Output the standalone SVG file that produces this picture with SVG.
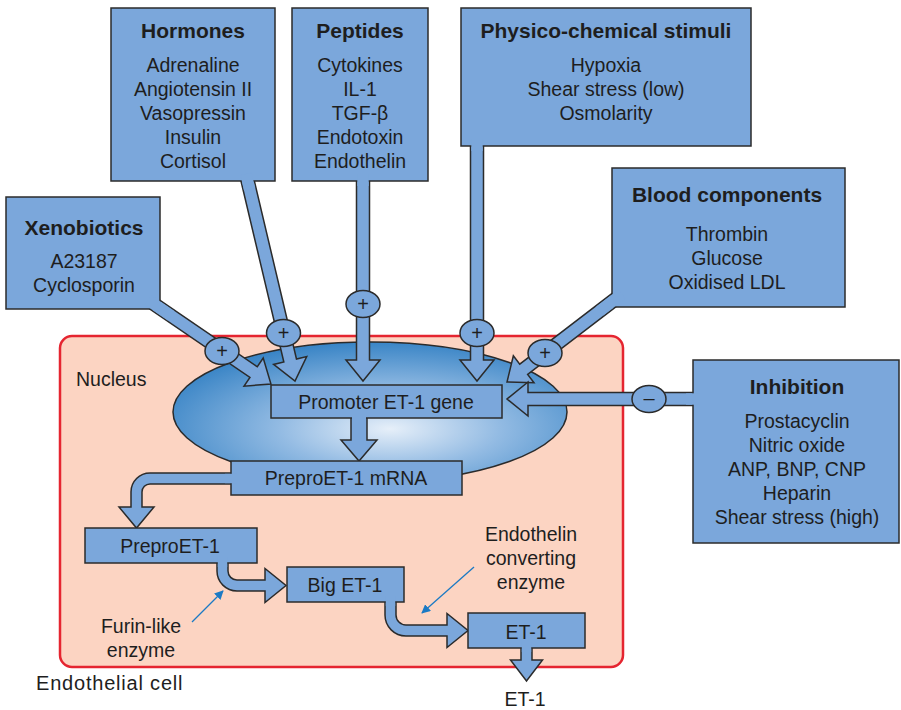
<svg xmlns="http://www.w3.org/2000/svg" width="901" height="710" viewBox="0 0 901 710">
<defs>
<radialGradient id="nuc" cx="0.55" cy="0.62" r="0.62">
<stop offset="0" stop-color="#e6eff9"/>
<stop offset="0.45" stop-color="#93bbe3"/>
<stop offset="1" stop-color="#3a85c6"/>
</radialGradient>
<marker id="ah" viewBox="0 0 10 10" refX="9" refY="5" markerWidth="9" markerHeight="9" orient="auto" markerUnits="userSpaceOnUse">
<path d="M0,0 L10,5 L0,10 Z" fill="#1b7ac4"/>
</marker>
<style>
.box{fill:#7ba7db;stroke:#2b2b2b;stroke-width:1.5}
.arr{fill:#7ba7db;stroke:#2b2b2b;stroke-width:1.5;stroke-linejoin:miter}
.pat{fill:#7ba7db;stroke:none}
.t{font-family:"Liberation Sans",Arial,sans-serif;font-size:19.5px;fill:#1e1e1e;text-anchor:middle}
.h{font-weight:bold;font-size:21px}
.l{text-anchor:start}
.sg{font-family:"Liberation Sans",Arial,sans-serif;font-size:20px;fill:#1e1e1e;text-anchor:middle}
.thin{stroke:#1b7ac4;stroke-width:1.3;fill:none}
</style>
</defs>
<rect width="901" height="710" fill="#ffffff"/>

<g id="cell">
<rect x="60" y="336" width="563" height="331" rx="12" fill="#fcd4c2" stroke="#e52530" stroke-width="2.5"/>
<text class="t l" x="36" y="690" style="font-size:20px;letter-spacing:0.8px">Endothelial cell</text>
</g>
<g id="nucleus">
<ellipse cx="370" cy="412" rx="197" ry="70" fill="url(#nuc)" stroke="#2b2b2b" stroke-width="1.5"/>
<text class="t l" x="76" y="386">Nucleus</text>
</g>

<g id="connectors">
<path class="arr" d="M351,413 V440 H341 L359,461 L377,440 H367 V413 Z"/>
<path class="arr" d="M240,473 H150 A19,19 0 0 0 131,492 V507 H119 L136.5,528 L154,507 H142 V492 A8,8 0 0 1 150,484 H240 Z"/>
<path class="arr" d="M217,555 V571 A20,20 0 0 0 237,591 H265 V602.5 L286,585.5 L265,568.5 V580 H237 A9,9 0 0 1 228,571 V555 Z"/>
<path class="arr" d="M385,597 V615 A21,21 0 0 0 406,636 H447 V647.5 L468,630.5 L447,613.5 V625 H406 A10,10 0 0 1 396,615 V597 Z"/>
<path class="arr" d="M521,643 V660 H510.5 L526.5,681 L542.5,660 H532 V643 Z"/>
<path class="arr" transform="translate(148,300) rotate(34.33)" d="M0,-6.5 H127.9 V-17 L148.9,0 L127.9,17 V6.5 H0 Z"/>
<path class="arr" transform="translate(246,174) rotate(76.68)" d="M0,-6.5 H191.7 V-17 L212.7,0 L191.7,17 V6.5 H0 Z"/>
<path class="arr" d="M356.5,175 V360 H346 L363,381 L380,360 H369.5 V175 Z"/>
<path class="arr" d="M470.5,140 V360 H460 L477,381 L494,360 H483.5 V140 Z"/>
<path class="arr" transform="translate(622,294) rotate(142.57)" d="M0,-6.5 H123.8 V-17 L144.8,0 L123.8,17 V6.5 H0 Z"/>
<path class="arr" d="M700,392.5 H528 V382 L507,399 L528,416 V405.5 H700 Z"/>
<line class="thin" x1="192" y1="622" x2="223" y2="591" marker-end="url(#ah)"/>
<line class="thin" x1="474" y1="567" x2="422" y2="613" marker-end="url(#ah)"/>
</g>

<g id="promoter">
<rect class="box" x="271" y="385" width="231" height="33"/>
<text class="t" x="386" y="409">Promoter ET-1 gene</text>
</g>
<g id="mrna">
<rect class="box" x="231" y="461" width="231" height="34"/>
<text class="t" x="346" y="485">PreproET-1 mRNA</text>
</g>
<g id="prepro">
<rect class="box" x="85" y="528" width="172" height="35"/>
<text class="t" x="170" y="553">PreproET-1</text>
</g>
<g id="bigET">
<rect class="box" x="287" y="567" width="117" height="35"/>
<text class="t" x="345" y="592">Big ET-1</text>
</g>
<g id="ET1">
<rect class="box" x="468" y="613" width="117" height="35"/>
<text class="t" x="526" y="639">ET-1</text>
</g>
<g id="ET1-out">
<text class="t" x="525" y="706">ET-1</text>
</g>
<g id="furin">
<text class="t" x="141" y="633">Furin-like</text>
<text class="t" x="141" y="657">enzyme</text>
</g>
<g id="ece">
<text class="t" x="531" y="541">Endothelin</text>
<text class="t" x="531" y="565">converting</text>
<text class="t" x="531" y="589">enzyme</text>
</g>

<g id="hormones">
<rect class="box" x="111" y="8" width="164" height="173"/>
<text class="t h" x="193" y="38">Hormones</text>
<text class="t" x="193" y="72">Adrenaline</text>
<text class="t" x="193" y="96">Angiotensin II</text>
<text class="t" x="193" y="120">Vasopressin</text>
<text class="t" x="193" y="144">Insulin</text>
<text class="t" x="193" y="168">Cortisol</text>
</g>
<g id="peptides">
<rect class="box" x="292" y="8" width="136" height="173"/>
<text class="t h" x="360" y="38">Peptides</text>
<text class="t" x="360" y="72">Cytokines</text>
<text class="t" x="360" y="96">IL-1</text>
<text class="t" x="360" y="120">TGF-β</text>
<text class="t" x="360" y="144">Endotoxin</text>
<text class="t" x="360" y="168">Endothelin</text>
</g>
<g id="physico">
<rect class="box" x="461" y="8" width="290" height="138"/>
<text class="t h" x="606" y="38">Physico-chemical stimuli</text>
<text class="t" x="606" y="72">Hypoxia</text>
<text class="t" x="606" y="96">Shear stress (low)</text>
<text class="t" x="606" y="120">Osmolarity</text>
</g>
<g id="blood">
<rect class="box" x="612" y="168" width="233" height="139"/>
<text class="t h" x="727" y="202">Blood components</text>
<text class="t" x="727" y="241">Thrombin</text>
<text class="t" x="727" y="265">Glucose</text>
<text class="t" x="727" y="289">Oxidised LDL</text>
</g>
<g id="xenobiotics">
<rect class="box" x="6" y="197" width="154" height="112"/>
<text class="t h" x="84" y="235">Xenobiotics</text>
<text class="t" x="84" y="268">A23187</text>
<text class="t" x="84" y="292">Cyclosporin</text>
</g>
<g id="inhibition">
<rect class="box" x="693" y="360" width="206" height="183"/>
<text class="t h" x="797" y="394">Inhibition</text>
<text class="t" x="797" y="428">Prostacyclin</text>
<text class="t" x="797" y="452">Nitric oxide</text>
<text class="t" x="797" y="476">ANP, BNP, CNP</text>
<text class="t" x="797" y="500">Heparin</text>
<text class="t" x="797" y="524">Shear stress (high)</text>
</g>

<g id="junctions">
<rect class="pat" x="352" y="412" width="14" height="10"/>
<rect class="pat" x="225" y="473.8" width="12" height="9.4"/>
<rect class="pat" x="217.8" y="557" width="9.4" height="10"/>
<rect class="pat" x="385.8" y="596" width="9.4" height="10"/>
<rect class="pat" x="521.8" y="642" width="9.4" height="10"/>
<rect class="pat" transform="translate(148,300) rotate(34.33)" x="0" y="-5.7" width="28" height="11.4"/>
<rect class="pat" transform="translate(246,174) rotate(76.68)" x="0" y="-5.7" width="16" height="11.4"/>
<rect class="pat" x="357.3" y="174" width="11.4" height="12"/>
<rect class="pat" x="471.3" y="139" width="11.4" height="12"/>
<rect class="pat" transform="translate(622,294) rotate(142.57)" x="0" y="-5.7" width="28" height="11.4"/>
<rect class="pat" x="686" y="393.3" width="14" height="11.4"/>
</g>

<g id="signs">
<ellipse class="box" cx="222" cy="351" rx="17" ry="13.5"/>
<text class="sg" x="222" y="358">+</text>
<ellipse class="box" cx="283.5" cy="333" rx="17" ry="13.5"/>
<text class="sg" x="283.5" y="340">+</text>
<ellipse class="box" cx="363" cy="304" rx="17" ry="13.5"/>
<text class="sg" x="363" y="311">+</text>
<ellipse class="box" cx="477" cy="333" rx="17" ry="13.5"/>
<text class="sg" x="477" y="340">+</text>
<ellipse class="box" cx="545" cy="353" rx="17" ry="13.5"/>
<text class="sg" x="545" y="360">+</text>
<ellipse class="box" cx="649" cy="399" rx="17" ry="13.5"/>
<text class="sg" x="649" y="405">–</text>
</g>
</svg>
